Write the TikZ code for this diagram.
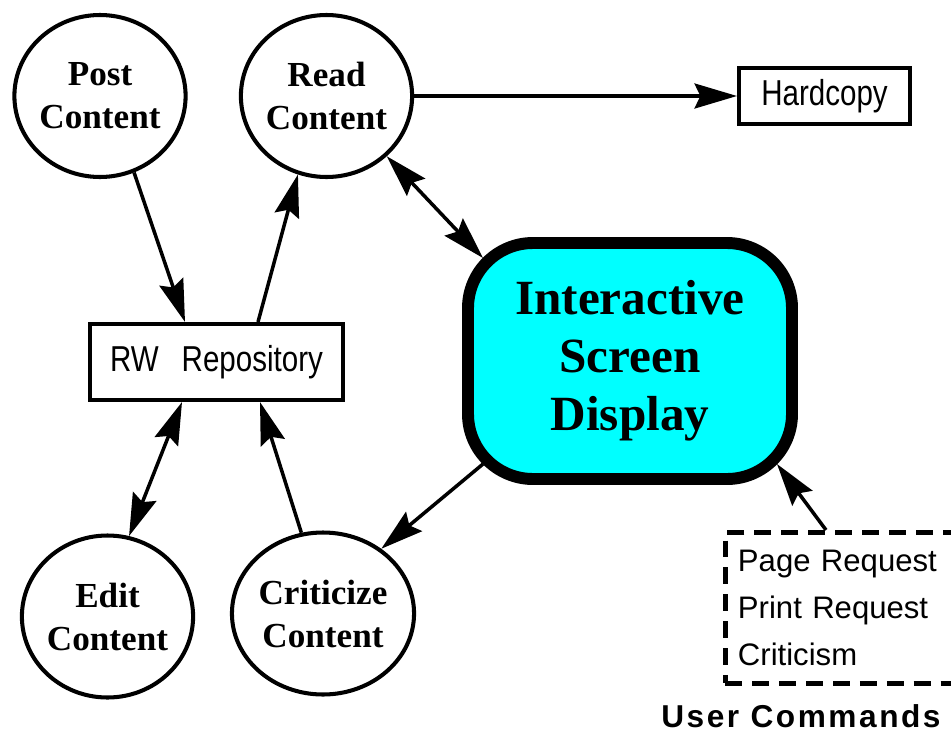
\documentclass[tikz,border=0pt]{standalone}
\usepackage{fontspec}
\setmainfont{Liberation Serif}
\setsansfont{Liberation Sans}
\usetikzlibrary{positioning, arrows.meta, calc, shapes.geometric}
\definecolor{screencyan}{RGB}{0,255,255}
\newcommand{\narrowtext}[1]{\scalebox{0.82}[1]{#1}}

\begin{document}
\begin{tikzpicture}[
		bubble/.style={ellipse, draw, line width=2.3pt, minimum width=3.4cm, minimum height=3.24cm,
			inner sep=0pt, align=center, font=\fontsize{20}{24.5}\selectfont\bfseries},
		store/.style={rectangle, draw, line width=2.3pt, inner sep=0pt, font=\sffamily\fontsize{20.5}{22}\selectfont},
		screen/.style={rectangle, draw, fill=screencyan, line width=6.8pt, rounded corners=1.3cm,
			minimum width=6.48cm, minimum height=4.72cm, align=center, font=\fontsize{28}{33}\selectfont\bfseries},
		cmdbox/.style={rectangle, draw, line width=2.8pt, dash pattern=on 9.6pt off 5.7pt, anchor=north west,
			minimum height=3.02cm, text width=4.9cm, inner xsep=0.25cm, align=left,
			font=\sffamily\fontsize{17.7}{26.6}\selectfont},
		arrow/.style={-{Stealth[length=0.85cm, width=0.5cm, inset=0.12cm]}, line width=2pt},
		twoway/.style={{Stealth[length=0.85cm, width=0.5cm, inset=0.12cm]}-{Stealth[length=0.85cm, width=0.5cm, inset=0.12cm]}, line width=2pt}
	]
		\useasboundingbox (0,0) rectangle (19.02,-14.66);
		
		\node[bubble] (post) at (2.0,-1.92) {Post\\Content};
		\node[bubble] (read) at (6.53,-1.92) {Read\\Content};
		\node[store, minimum width=3.42cm, minimum height=1.12cm] (hard) at (16.49,-1.92) {\narrowtext{Hardcopy}};
		\node[store, minimum width=5.06cm, minimum height=1.52cm] (rw) at (4.33,-7.24) {\narrowtext{RW\hspace{0.5em} Repository}};
		\node[screen] (isd) at (12.6,-7.22) {Interactive\\Screen\\Display};
		\node[bubble] (edit) at (2.15,-12.33) {Edit\\Content};
		\node[bubble] (crit) at (6.46,-12.27) {Criticize\\Content};
		\node[cmdbox] (cmd) at (14.46,-10.6) {Page Request\\Print Request\\Criticism};
		\node[anchor=base, font=\sffamily\bfseries\fontsize{18}{20}\selectfont\addfontfeatures{LetterSpace=8}] (usr) at (16.02,-14.54) {User Commands};
		
		\draw[arrow] (post.294) -- ([xshift=-0.63cm]rw.north);
		\draw[arrow] ([xshift=0.83cm]rw.north) -- (read.250);
		\draw[twoway] (read.315) -- ($(isd.north west)+(0.42,-0.42)$);
		\draw[arrow] (read) -- (hard);
		\draw[twoway] ([xshift=-0.69cm]rw.south) -- (edit.75);
		\draw[arrow] (crit.105) -- ([xshift=0.87cm]rw.south);
		\draw[arrow] ($(isd.south west)+(0.42,0.42)$) -- (crit.48);
		\draw[arrow] ([xshift=2.06cm]cmd.north west) -- ($(isd.south east)+(-0.42,0.42)$);
	\end{tikzpicture}
\end{document}
